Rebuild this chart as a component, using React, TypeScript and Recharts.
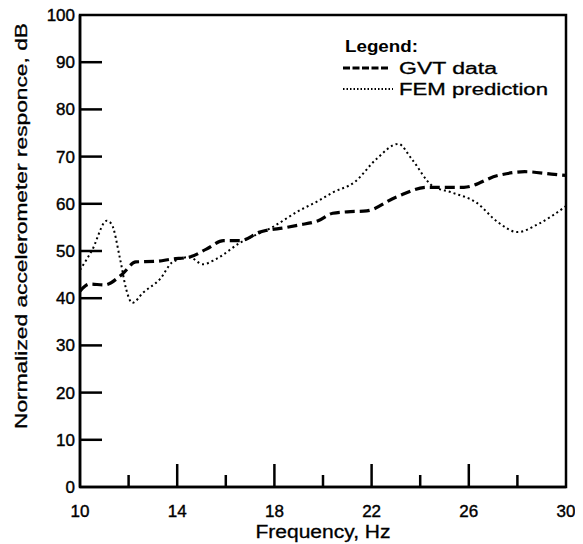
import React from 'react';
import { LineChart, Line, XAxis, YAxis, Legend, ReferenceArea } from 'recharts';

// GVT data (dashed)
const gvtFreq = [10.0, 10.4, 11.0, 11.7, 12.3, 13.1, 13.8, 14.5, 15.2, 15.9, 16.6, 17.4, 18.5, 19.0, 19.8, 20.4, 21.0, 21.8, 23.0, 24.3, 25.8, 27.2, 28.3, 29.4, 30.0];
const gvtResp = [41.5, 43.0, 42.8, 44.9, 47.7, 47.8, 48.3, 48.7, 50.4, 52.2, 52.2, 54.0, 55.0, 55.5, 56.4, 58.0, 58.3, 58.5, 61.4, 63.5, 63.5, 66.0, 66.8, 66.3, 66.0];

// FEM prediction (dotted)
const femFreq = [10.0, 10.5, 11.1, 11.3, 11.65, 11.9, 12.15, 12.6, 13.3, 13.8, 14.5, 15.05, 15.6, 16.6, 17.9, 19.0, 19.8, 20.4, 21.3, 22.2, 23.1, 23.65, 24.5, 25.3, 26.3, 27.2, 28.0, 28.85, 30.0];
const femResp = [46.0, 50.2, 56.4, 55.7, 48.3, 41.9, 39.0, 41.2, 44.1, 47.6, 48.7, 47.2, 48.3, 51.8, 55.0, 58.5, 60.6, 62.4, 64.6, 69.5, 72.7, 69.5, 63.8, 62.4, 60.3, 56.1, 54.0, 55.7, 59.5];

const xTicks = [10, 12, 14, 16, 18, 20, 22, 24, 26, 28, 30];
const xLabels = [10, 14, 18, 22, 26, 30];
const yTicks = [0, 10, 20, 30, 40, 50, 60, 70, 80, 90, 100];

const gvtData = gvtFreq.map((f, i) => ({ freq: f, resp: gvtResp[i] }));
const femData = femFreq.map((f, i) => ({ freq: f, resp: femResp[i] }));

const FONT = '"Liberation Sans", Arial, Helvetica, sans-serif';

const YTick = (props: any) => {
  const { x, y, payload } = props;
  const v = payload.value;
  return (
    <g>
      {v > 0 && v < 100 && <line x1={x} y1={y} x2={x + 22} y2={y} stroke="#000" strokeWidth={2.5} />}
      <text x={x - 5} y={y} dy={6} textAnchor="end" fontSize={17} fontFamily={FONT} fill="#000" stroke="#000" strokeWidth={0.4}>
        {v}
      </text>
    </g>
  );
};

const XTick = (props: any) => {
  const { x, y, payload } = props;
  const v = payload.value;
  const major = xLabels.includes(v);
  const len = major ? 23 : 12;
  return (
    <g>
      {v > 10 && v < 30 && <line x1={x} y1={y} x2={x} y2={y - len} stroke="#000" strokeWidth={2.5} />}
      {major && (
        <text x={x} y={y + 30} textAnchor="middle" fontSize={17} fontFamily={FONT} fill="#000" stroke="#000" strokeWidth={0.4}>
          {v}
        </text>
      )}
    </g>
  );
};

const YTitle = (props: any) => {
  const vb = props.viewBox || { x: 0, y: 7, width: 72, height: 472 };
  const cx = vb.x + 13;
  const cy = vb.y + 211;
  return (
    <text x={cx} y={cy} transform={`rotate(-90 ${cx} ${cy})`} textAnchor="middle" dominantBaseline="central"
      fontSize={17} fontFamily={FONT} fill="#000" stroke="#000" strokeWidth={0.3}
      textLength={406} lengthAdjust="spacingAndGlyphs">
      Normalized accelerometer responce, dB
    </text>
  );
};

const XTitle = (props: any) => {
  const vb = props.viewBox || { x: 72, y: 479, width: 486, height: 57 };
  const cx = vb.x + vb.width / 2;
  return (
    <text x={cx} y={vb.y + 51} textAnchor="middle" fontSize={18} fontFamily={FONT} fill="#000" stroke="#000" strokeWidth={0.3}
      textLength={135} lengthAdjust="spacingAndGlyphs">
      Frequency, Hz
    </text>
  );
};

const LegendBox = () => (
  <svg width={220} height={66} style={{ display: 'block' }}>
    <text x={7} y={14} fontSize={16} fontWeight="bold" fontFamily={FONT} fill="#000" textLength={73} lengthAdjust="spacingAndGlyphs">
      Legend:
    </text>
    <line x1={5} y1={30} x2={50} y2={30} stroke="#000" strokeWidth={3} strokeDasharray="7 2.5" />
    <text x={61} y={36} fontSize={16} fontFamily={FONT} fill="#000" stroke="#000" strokeWidth={0.3} textLength={98} lengthAdjust="spacingAndGlyphs">
      GVT data
    </text>
    <line x1={5} y1={51} x2={55} y2={51} stroke="#000" strokeWidth={2} strokeDasharray="1.5 2" />
    <text x={61} y={57} fontSize={16} fontFamily={FONT} fill="#000" stroke="#000" strokeWidth={0.3} textLength={149} lengthAdjust="spacingAndGlyphs">
      FEM prediction
    </text>
  </svg>
);

export default function App() {
  return (
    <LineChart width={575} height={536} margin={{ top: 7, right: 17, bottom: 0, left: 0 }}>
      <XAxis
        dataKey="freq"
        type="number"
        domain={[10, 30]}
        ticks={xTicks}
        interval={0}
        allowDataOverflow
        height={57}
        tickSize={0}
        tickMargin={0}
        tick={<XTick />}
        axisLine={{ stroke: '#000', strokeWidth: 2.5 }}
        tickLine={false}
        label={<XTitle />}
      />
      <YAxis
        type="number"
        domain={[0, 100]}
        ticks={yTicks}
        interval={0}
        width={72}
        tickSize={0}
        tickMargin={0}
        tick={<YTick />}
        axisLine={{ stroke: '#000', strokeWidth: 2.5 }}
        tickLine={false}
        label={<YTitle />}
      />
      {/* plot frame */}
      <ReferenceArea x1={10} x2={30} y1={0} y2={100} fill="none" stroke="#000" strokeWidth={2.5} ifOverflow="visible" />
      <Legend
        layout="horizontal"
        verticalAlign="middle"
        align="center"
        content={<LegendBox />}
        wrapperStyle={{ top: 30, left: 330, width: 220, height: 66 }}
      />
      <Line
        data={gvtData}
        dataKey="resp"
        name="GVT data"
        type="monotone"
        stroke="#000"
        strokeWidth={3.2}
        strokeDasharray="10 5"
        dot={false}
        activeDot={false}
        isAnimationActive={false}
      />
      <Line
        data={femData}
        dataKey="resp"
        name="FEM prediction"
        type="monotone"
        stroke="#000"
        strokeWidth={2}
        strokeDasharray="2 3"
        dot={false}
        activeDot={false}
        isAnimationActive={false}
      />
    </LineChart>
  );
}
